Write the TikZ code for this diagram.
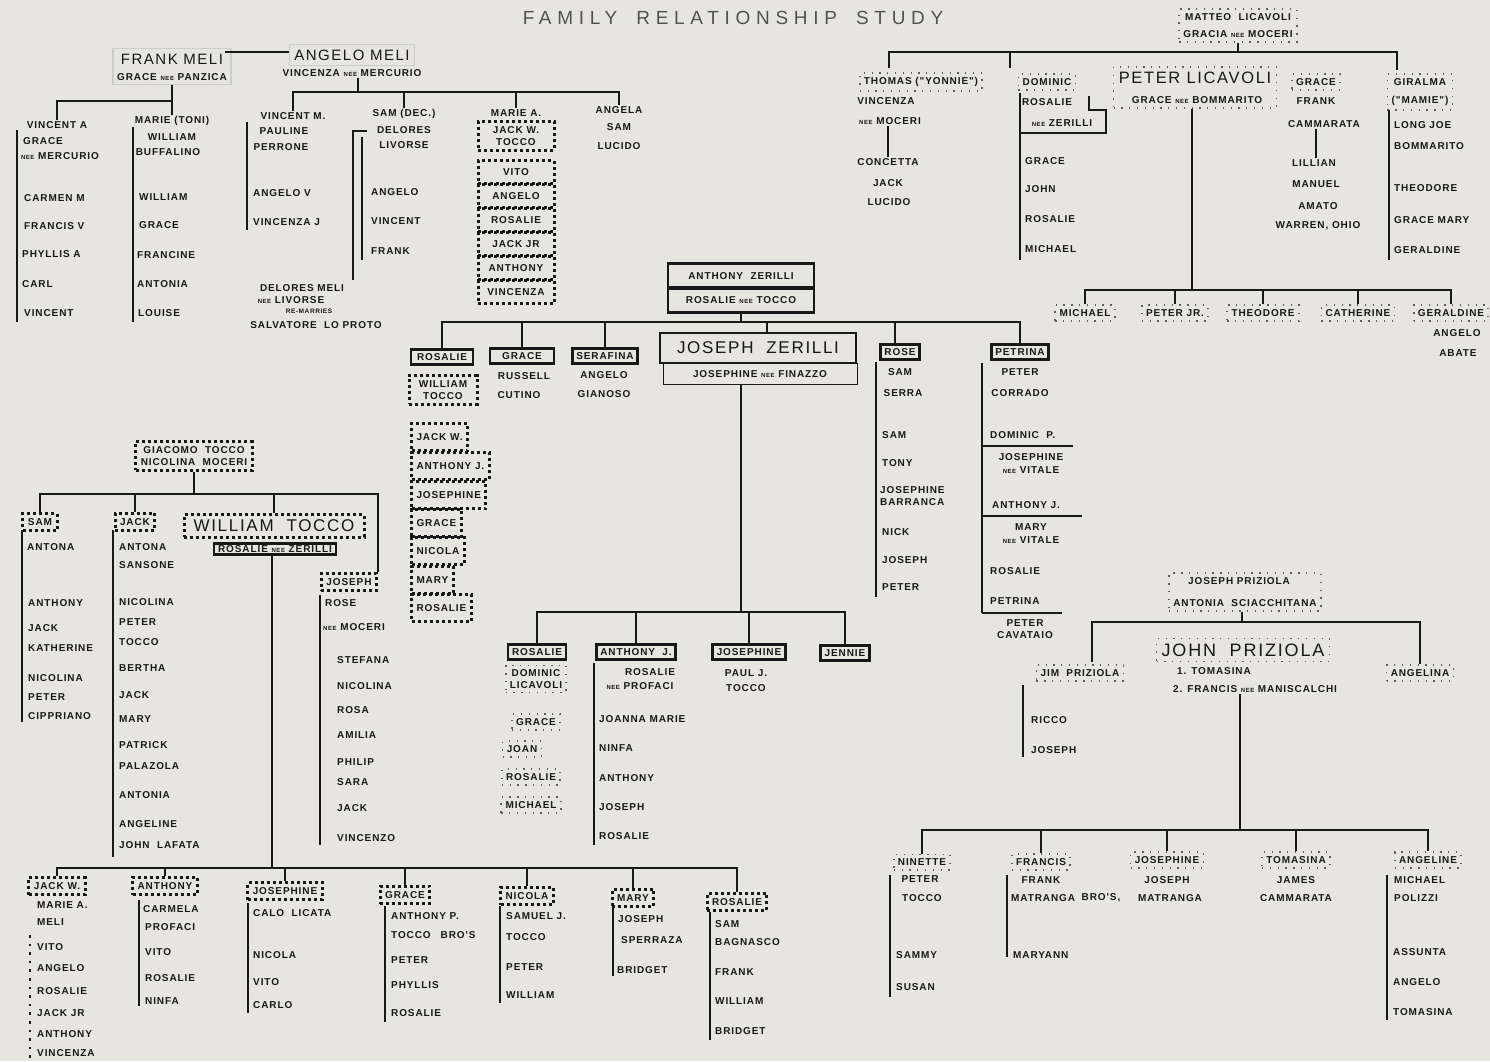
\documentclass[tikz,border=0pt]{standalone}
\usepackage{fontspec}
\setsansfont{Liberation Sans}
\newfontfamily\labfont{Liberation Sans}[LetterSpace=9]
\newfontfamily\bigfont{Liberation Sans}[LetterSpace=10]
\newfontfamily\titlefont{Liberation Sans}[LetterSpace=30]
\usetikzlibrary{fit}
\definecolor{paper}{RGB}{231,229,223}
\definecolor{ink}{RGB}{24,24,24}
\newcommand\nee{{\fontsize{6}{6}\selectfont NEE}}

\begin{document}
\begin{tikzpicture}[x=1pt,y=-1pt,ink]

  \tikzstyle{person}=[font=\labfont\bfseries\fontsize{10}{11.5}\selectfont,inner sep=1pt,text=ink]
  \tikzstyle{kid}=[person,anchor=west]
  \tikzstyle{bigname}=[font=\bigfont\fontsize{18}{20}\selectfont,inner sep=2pt,text=ink]
  \tikzstyle{midname}=[font=\bigfont\fontsize{15}{16}\selectfont,inner sep=2pt,text=ink]
  \tikzstyle{heavy}=[person,draw,line width=2.6pt,inner xsep=4pt,inner ysep=4pt]
  \tikzstyle{thinbox}=[person,draw,line width=1pt,inner xsep=4pt,inner ysep=4pt]
  \tikzstyle{dots}=[person,draw,line width=3pt,dash pattern=on 3pt off 3pt,inner xsep=5pt,inner ysep=5pt]
  \tikzstyle{sparse}=[draw=ink!70,line width=1.7pt,dash pattern=on 1.3pt off 6.5pt,inner sep=3pt]
  \tikzstyle{faint}=[draw=ink!22,line width=1.2pt,inner sep=3pt]
  \tikzstyle{famline}=[line width=1.5pt]
  \tikzstyle{sideline}=[line width=1.8pt]

  \useasboundingbox (0,0) rectangle (1490,1061);
  \fill[paper] (0,0) rectangle (1490,1061);

  \node[font=\titlefont\fontsize{19}{20}\selectfont,text=ink!75] (title) at (733,18) {FAMILY\quad RELATIONSHIP\quad STUDY};

  % Meli
  \node[midname] (fmeli) at (172,59) {FRANK MELI};
  \node[person] (fmeliw) at (172,77) {GRACE \nee{} PANZICA};
  \node[faint,fit=(fmeli)(fmeliw)] (fmbox) {};
  \node[midname] (ameli) at (352,55) {ANGELO MELI};
  \node[person] (ameliw) at (352,73) {VINCENZA \nee{} MERCURIO};
  \node[faint,fit=(ameli)] (ambox) {};
  \draw[famline] ([yshift=7pt]fmeli.east) -- ([yshift=7pt]fmeli.east -| ambox.west);

  \node[person] (vinca)  at (57,125) {VINCENT A};
  \node[kid]    (vincag) at (22,141) {GRACE};
  \node[person] (vincan) at (60,156) {\nee{} MERCURIO};
  \node[kid] (carmen)  at (23,198) {CARMEN M};
  \node[kid] (francis) at (23,226) {FRANCIS V};
  \node[kid] (phyllis) at (21,254) {PHYLLIS A};
  \node[kid] (carl)    at (21,284) {CARL};
  \node[kid] (vincent) at (23,313) {VINCENT};

  \node[person] (marie)  at (172,121) {MARIE (TONI)};
  \node[person] (mariew) at (172,137) {WILLIAM};
  \node[person] (marieb) at (168,152) {BUFFALINO};
  \node[kid] (mwilliam)  at (138,197) {WILLIAM};
  \node[kid] (mgrace)    at (138,225) {GRACE};
  \node[kid] (mfrancine) at (136,255) {FRANCINE};
  \node[kid] (mantonia)  at (136,284) {ANTONIA};
  \node[kid] (mlouise)   at (137,313) {LOUISE};

  \coordinate (fmbar) at (172,101);
  \draw[famline] (fmbox.south) -- (fmbar) -| (vinca.north);
  \draw[famline] (fmbar) -- (marie.north);
  \draw[sideline] (17,130) -- (17,322);
  \draw[sideline] (133,127) -- (133,322);

  \node[person] (vincm)  at (293,116) {VINCENT M.};
  \node[person] (vincmp) at (284,131) {PAULINE};
  \node[person] (vincmr) at (281,147) {PERRONE};
  \node[kid] (vmangelo)   at (252,193) {ANGELO V};
  \node[kid] (vmvincenza) at (252,222) {VINCENZA J};

  \node[person] (sam)  at (404,114) {SAM (DEC.)};
  \node[person] (samd) at (404,130) {DELORES};
  \node[person] (saml) at (404,145) {LIVORSE};
  \node[kid] (sangelo)  at (370,192) {ANGELO};
  \node[kid] (svincent) at (370,221) {VINCENT};
  \node[kid] (sfrank)   at (370,251) {FRANK};

  \node[person] (delores) at (302,288) {DELORES MELI};
  \node[person] (delorl)  at (291,300) {\nee{} LIVORSE};
  \node[person,font=\labfont\bfseries\fontsize{6.5}{7}\selectfont] (delorr) at (309,311) {RE-MARRIES};
  \node[person] (delors)  at (316,325) {SALVATORE\ \ LO PROTO};

  \node[person] (mariea) at (516,113) {MARIE A.};
  \node[dots,align=center,minimum width=76pt] (mjack) at (516,136) {JACK W.\\TOCCO};
  \node[dots,minimum width=76pt,minimum height=23pt] (mvito)     at (516,172) {VITO};
  \node[dots,minimum width=76pt,minimum height=23pt] (mangelo)   at (516,196) {ANGELO};
  \node[dots,minimum width=76pt,minimum height=23pt] (mrosalie)  at (516,220) {ROSALIE};
  \node[dots,minimum width=76pt,minimum height=23pt] (mjackjr)   at (516,244) {JACK JR};
  \node[dots,minimum width=76pt,minimum height=23pt] (manthony)  at (516,268) {ANTHONY};
  \node[dots,minimum width=76pt,minimum height=23pt] (mvincenza) at (516,292) {VINCENZA};

  \node[person] (angela)  at (619,110) {ANGELA};
  \node[person] (angelas) at (619,127) {SAM};
  \node[person] (angelal) at (619,146) {LUCIDO};

  \coordinate (ambar) at (358,92);
  \draw[famline] (ameliw.south -| ambar) -- (ambar);
  \draw[famline] (vincm.north) -- (vincm.north |- ambar) -- (angela.north |- ambar) -- (angela.north);
  \draw[famline] (sam.north |- ambar) -- (sam.north);
  \draw[famline] (mariea.north |- ambar) -- (mariea.north);
  \draw[sideline] (247,122) -- (247,230);
  \draw[sideline] (362,137) -- (362,260);
  \draw[sideline] (367,131) -- (353,131) -- (353,280);

  % Licavoli
  \node[person] (matteo) at (1238,17) {MATTEO\ \ LICAVOLI};
  \node[person] (gracia) at (1238,34) {GRACIA \nee{} MOCERI};
  \node[sparse,fit=(matteo)(gracia)] (matteobox) {};
  \coordinate (lbar) at (1238,52);
  \draw[famline] (matteobox.south) -- (lbar);

  \node[person] (thomas)   at (921,82) {THOMAS ("YONNIE")};
  \node[sparse,fit=(thomas)] (thomasbox) {};
  \node[person] (thomasv)  at (886,101) {VINCENZA};
  \node[person] (thomasm)  at (890,121) {\nee{} MOCERI};
  \node[person] (concetta) at (888,162) {CONCETTA};
  \node[person] (cjack)    at (888,183) {JACK};
  \node[person] (clucido)  at (889,202) {LUCIDO};
  \draw[famline] (thomasm.south -| concetta.north) -- (concetta.north);

  \node[person] (dominic)  at (1047,82) {DOMINIC};
  \node[sparse,fit=(dominic)] (dominicbox) {};
  \node[person] (drosalie) at (1047,102) {ROSALIE};
  \node[person] (dzerilli) at (1062,123) {\nee{} ZERILLI};
  \draw[line width=2.6pt] (1020,93) -- (1020,133) -- (1106,133) -- (1106,110) -- (1089,110) -- (1089,96);
  \node[kid] (dgrace)    at (1024,161) {GRACE};
  \node[kid] (djohn)     at (1024,189) {JOHN};
  \node[kid] (drosalie2) at (1024,219) {ROSALIE};
  \node[kid] (dmichael)  at (1024,249) {MICHAEL};
  \draw[sideline] (1020,133) -- (1020,260);

  \node[bigname,font=\bigfont\fontsize{16.5}{18}\selectfont] (peter)  at (1195,78) {PETER\ LICAVOLI};
  \node[person]  (peterw) at (1197,100) {GRACE \nee{} BOMMARITO};
  \node[sparse,fit=(peter)(peterw)] (peterbox) {};

  \node[person] (pgrace)  at (1316,82) {GRACE};
  \node[sparse,fit=(pgrace)] (pgracebox) {};
  \node[person] (pfrank)  at (1316,101) {FRANK};
  \node[person] (pcamm)   at (1324,124) {CAMMARATA};
  \node[person] (lillian) at (1314,163) {LILLIAN};
  \node[person] (manuel)  at (1316,184) {MANUEL};
  \node[person] (amato)   at (1318,206) {AMATO};
  \node[person] (warren)  at (1318,226) {WARREN, OHIO};
  \draw[famline] (pcamm.south -| pfrank) -- (lillian.north -| pfrank);

  \node[person] (giralma) at (1420,82) {GIRALMA};
  \node[person] (mamie)   at (1420,101) {("MAMIE")};
  \node[sparse,fit=(giralma)(mamie)] (giralmabox) {};
  \node[kid] (longjoe) at (1393,125) {LONG JOE};
  \node[kid] (bommar)  at (1393,146) {BOMMARITO};
  \node[kid] (gtheo)   at (1393,188) {THEODORE};
  \node[kid] (ggrace)  at (1393,220) {GRACE MARY};
  \node[kid] (ggerald) at (1393,250) {GERALDINE};
  \draw[sideline] (1389,110) -- (1389,260);

  \coordinate (tdrop) at (889,68);
  \coordinate (ddrop) at (1010,68);
  \coordinate (gdrop) at (1397,70);
  \draw[famline] (tdrop) -- (tdrop |- lbar) -- (gdrop |- lbar) -- (gdrop);
  \draw[famline] (ddrop |- lbar) -- (ddrop);

  \coordinate (pbar) at (1192,290);
  \draw[famline] (peterbox.south -| pbar) -- (pbar);
  \node[person] (pmichael) at (1085,313) {MICHAEL};
  \node[person] (ppeterjr) at (1175,313) {PETER JR.};
  \node[person] (ptheo)    at (1263,313) {THEODORE};
  \node[person] (pcath)    at (1358,313) {CATHERINE};
  \node[person] (pgerald)  at (1451,313) {GERALDINE};
  \node[person] (pangelo)  at (1457,333) {ANGELO};
  \node[person] (pabate)   at (1458,353) {ABATE};
  \node[sparse,fit=(pmichael)] (pmichaelbox) {};
  \node[sparse,fit=(ppeterjr)] (ppeterjrbox) {};
  \node[sparse,fit=(ptheo)] (ptheobox) {};
  \node[sparse,fit=(pcath)] (pcathbox) {};
  \node[sparse,fit=(pgerald)] (pgeraldbox) {};
  \draw[famline] (pmichaelbox.north) -- (pmichaelbox.north |- pbar) -- (pgeraldbox.north |- pbar) -- (pgeraldbox.north);
  \draw[famline] (ppeterjrbox.north |- pbar) -- (ppeterjrbox.north);
  \draw[famline] (ptheobox.north |- pbar) -- (ptheobox.north);
  \draw[famline] (pcathbox.north |- pbar) -- (pcathbox.north);

  % Zerilli
  \node[heavy,minimum width=146pt,minimum height=25pt] (az) at (741,276) {ANTHONY\ \ ZERILLI};
  \node[heavy,minimum width=146pt,minimum height=25pt] (rz) at (741,300) {ROSALIE \nee{} TOCCO};
  \coordinate (zbar) at (741,322);
  \draw[famline] (rz.south) -- (zbar);

  \node[heavy,minimum width=62pt] (zrosalie) at (442,357) {ROSALIE};
  \node[heavy,minimum width=64pt] (zgrace) at (522,356) {GRACE};
  \node[heavy] (zserafina) at (605,356) {SERAFINA};
  \node[heavy,font=\bigfont\fontsize{17}{18}\selectfont,minimum width=196pt,minimum height=30pt,inner ysep=2pt] (joseph) at (758,348) {JOSEPH\ \ ZERILLI};
  \node[thinbox,minimum width=194pt,minimum height=21pt,inner ysep=2pt] (josephine) at (760,374) {JOSEPHINE \nee{} FINAZZO};
  \node[heavy] (zrose) at (900,352) {ROSE};
  \node[heavy] (zpetrina) at (1020,352) {PETRINA};
  \coordinate (jdrop) at ([xshift=9pt]joseph.north);
  \coordinate (rdrop) at ([xshift=-5pt]zrose.north);
  \draw[famline] (zrosalie.north) -- (zrosalie.north |- zbar) -- (zpetrina.north |- zbar) -- (zpetrina.north);
  \draw[famline] (zgrace.north |- zbar) -- (zgrace.north);
  \draw[famline] (zserafina.north |- zbar) -- (zserafina.north);
  \draw[famline] (jdrop |- zbar) -- (jdrop);
  \draw[famline] (rdrop |- zbar) -- (rdrop);

  \node[dots,align=center,minimum width=68pt] (zwt) at (443,390) {WILLIAM\\TOCCO};
  \node[dots,anchor=west,minimum height=27pt] (zjack)   at (410,437) {JACK W.};
  \node[dots,anchor=west,minimum height=27pt] (zanth)   at (410,466) {ANTHONY J.};
  \node[dots,anchor=west,minimum height=27pt] (zjosep)  at (410,495) {JOSEPHINE};
  \node[dots,anchor=west,minimum height=27pt] (zgrace2) at (410,523) {GRACE};
  \node[dots,anchor=west,minimum height=27pt] (znicola) at (410,551) {NICOLA};
  \node[dots,anchor=west,minimum height=27pt] (zmary)   at (410,580) {MARY};
  \node[dots,anchor=west,minimum height=27pt] (zros2)   at (410,608) {ROSALIE};

  \node[person] (zrussell) at (524,376) {RUSSELL};
  \node[person] (zcutino)  at (519,395) {CUTINO};
  \node[person] (zangelo)  at (604,375) {ANGELO};
  \node[person] (zgianoso) at (604,394) {GIANOSO};

  \node[person] (rsam)   at (900,372) {SAM};
  \node[person] (rserra) at (903,393) {SERRA};
  \node[kid] (rsam2)   at (881,435) {SAM};
  \node[kid] (rtony)   at (881,463) {TONY};
  \node[kid,align=left] (rjos) at (879,496) {JOSEPHINE\\BARRANCA};
  \node[kid] (rnick)   at (881,532) {NICK};
  \node[kid] (rjoseph) at (881,560) {JOSEPH};
  \node[kid] (rpeter)  at (881,587) {PETER};
  \draw[sideline] (876,362) -- (876,597);

  \node[person] (tpeter)   at (1020,372) {PETER};
  \node[person] (tcorrado) at (1020,393) {CORRADO};
  \node[kid] (tdominic) at (989,435) {DOMINIC\ \ P.};
  \draw[sideline] (982,446) -- (1073,446);
  \node[person] (tjos)  at (1031,457) {JOSEPHINE};
  \node[person] (tjosv) at (1031,470) {\nee{} VITALE};
  \node[kid] (tanth) at (991,505) {ANTHONY J.};
  \draw[sideline] (982,516) -- (1082,516);
  \node[person] (tmary)  at (1031,527) {MARY};
  \node[person] (tmaryv) at (1031,540) {\nee{} VITALE};
  \node[kid] (tros) at (989,571) {ROSALIE};
  \node[kid] (tpet) at (989,601) {PETRINA};
  \draw[sideline] (982,613) -- (1062,613);
  \node[person] (tcav)  at (1025,623) {PETER};
  \node[person] (tcav2) at (1025,635) {CAVATAIO};
  \draw[sideline] (982,363) -- (982,613);

  \coordinate (jbar) at (741,612);
  \draw[famline] (josephine.south -| jbar) -- (jbar);
  \node[heavy] (jrosalie)   at (537,652) {ROSALIE};
  \node[heavy] (janthony)   at (636,652) {ANTHONY\ \ J.};
  \node[heavy] (jjosephine) at (749,652) {JOSEPHINE};
  \node[heavy] (jjennie)    at (845,653) {JENNIE};
  \draw[famline] (jrosalie.north) -- (jrosalie.north |- jbar) -- (jjennie.north |- jbar) -- (jjennie.north);
  \draw[famline] (janthony.north |- jbar) -- (janthony.north);
  \draw[famline] (jjosephine.north |- jbar) -- (jjosephine.north);

  \node[person,align=center] (jdominic) at (536,679) {DOMINIC\\LICAVOLI};
  \node[sparse,fit=(jdominic)] (jdombox) {};
  \node[person] (jgrace)   at (536,722) {GRACE};
  \node[person] (jjoan)    at (522,749) {JOAN};
  \node[person] (jros2)    at (531,777) {ROSALIE};
  \node[person] (jmichael) at (531,805) {MICHAEL};
  \node[sparse,fit=(jgrace)] (jgracebox) {};
  \node[sparse,fit=(jjoan)] (jjoanbox) {};
  \node[sparse,fit=(jros2)] (jros2box) {};
  \node[sparse,fit=(jmichael)] (jmichaelbox) {};

  \node[person] (jaros)  at (650,672) {ROSALIE};
  \node[person] (japrof) at (640,686) {\nee{} PROFACI};
  \node[kid] (jajoanna)  at (598,719) {JOANNA MARIE};
  \node[kid] (janinfa)   at (598,748) {NINFA};
  \node[kid] (jaanth)    at (598,778) {ANTHONY};
  \node[kid] (jajoseph)  at (598,807) {JOSEPH};
  \node[kid] (jarosalie) at (598,836) {ROSALIE};
  \draw[sideline] (594,663) -- (594,845);
  \node[person] (jpaul)  at (746,673) {PAUL J.};
  \node[person] (jtocco) at (746,688) {TOCCO};

  % Priziola
  \node[person] (jpriz) at (1239,581) {JOSEPH PRIZIOLA};
  \node[person] (apriz) at (1245,603) {ANTONIA\ \ SCIACCHITANA};
  \node[sparse,fit=(jpriz)(apriz)] (jprizbox) {};
  \coordinate (prbar) at (1242,622);
  \draw[famline] (jprizbox.south -| prbar) -- (prbar);
  \node[bigname] (john) at (1243,650) {JOHN\ \ PRIZIOLA};
  \node[sparse,fit=(john)] (johnbox) {};
  \node[kid] (jtomasina) at (1176,671) {1. TOMASINA};
  \node[kid] (jfrancis)  at (1172,689) {2. FRANCIS \nee{} MANISCALCHI};
  \node[person] (jim) at (1080,673) {JIM\ \ PRIZIOLA};
  \node[sparse,fit=(jim)] (jimbox) {};
  \node[kid] (jricco)   at (1030,720) {RICCO};
  \node[kid] (jjoseph2) at (1030,750) {JOSEPH};
  \draw[sideline] (1023,685) -- (1023,757);
  \node[person] (angelina) at (1420,673) {ANGELINA};
  \node[sparse,fit=(angelina)] (angelinabox) {};
  \coordinate (jimdrop) at (1092,662);
  \draw[famline] (jimdrop) -- (jimdrop |- prbar) -- (angelinabox.north |- prbar) -- (angelinabox.north);

  \coordinate (nbar) at (1240,830);
  \draw[famline] (jfrancis.south -| nbar) -- (nbar);
  \node[person] (ninette) at (922,862) {NINETTE};
  \node[sparse,fit=(ninette)] (ninbox) {};
  \node[person] (npeter) at (920,879) {PETER};
  \node[person] (ntocco) at (922,898) {TOCCO};
  \node[kid] (nsammy) at (895,955) {SAMMY};
  \node[kid] (nsusan) at (895,987) {SUSAN};
  \draw[sideline] (890,875) -- (890,997);
  \node[person] (nfrancis) at (1041,862) {FRANCIS};
  \node[sparse,fit=(nfrancis)] (nfrbox) {};
  \node[person] (nfrank) at (1041,880) {FRANK};
  \node[kid] (nmatr) at (1010,898) {MATRANGA};
  \node[person] (nbros) at (1101,898) {BRO'S,};
  \node[kid] (nmaryann) at (1012,955) {MARYANN};
  \draw[sideline] (1007,875) -- (1007,957);
  \node[person] (njos) at (1167,860) {JOSEPHINE};
  \node[sparse,fit=(njos)] (njosbox) {};
  \node[person] (njoseph) at (1167,880) {JOSEPH};
  \node[person] (nmatr2) at (1170,898) {MATRANGA};
  \node[person] (ntom) at (1296,860) {TOMASINA};
  \node[sparse,fit=(ntom)] (ntombox) {};
  \node[person] (njames) at (1296,880) {JAMES};
  \node[person] (ncamm) at (1296,898) {CAMMARATA};
  \node[person] (nangel) at (1428,860) {ANGELINE};
  \node[sparse,fit=(nangel)] (nangbox) {};
  \node[kid] (nmich) at (1393,880) {MICHAEL};
  \node[kid] (npol)  at (1393,898) {POLIZZI};
  \node[kid] (nass)  at (1392,952) {ASSUNTA};
  \node[kid] (nang2) at (1392,982) {ANGELO};
  \node[kid] (ntom2) at (1392,1012) {TOMASINA};
  \draw[sideline] (1387,875) -- (1387,1020);
  \draw[famline] (ninbox.north) -- (ninbox.north |- nbar) -- (nangbox.north |- nbar) -- (nangbox.north);
  \draw[famline] (nfrbox.north |- nbar) -- (nfrbox.north);
  \draw[famline] (njosbox.north |- nbar) -- (njosbox.north);
  \draw[famline] (ntombox.north |- nbar) -- (ntombox.north);

  % Tocco
  \node[dots,align=center] (giacomo) at (194,456) {GIACOMO\ \ TOCCO\\NICOLINA\ \ MOCERI};
  \coordinate (gbar) at (194,494);
  \draw[famline] (giacomo.south) -- (gbar);
  \node[dots] (tsam)  at (40,522) {SAM};
  \node[dots] (tjack) at (135,522) {JACK};
  \node[dots,font=\bigfont\fontsize{17}{18}\selectfont,minimum width=180pt] (william) at (274,526) {WILLIAM\ \ TOCCO};
  \node[heavy,inner ysep=2pt] (rosaliew) at (275,549) {ROSALIE \nee{} ZERILLI};
  \node[dots] (tjoseph) at (349,582) {JOSEPH};
  \draw[famline] (tsam.north) -- (tsam.north |- gbar) -- (tjoseph.north east |- gbar) -- (tjoseph.north east);
  \draw[famline] (tjack.north |- gbar) -- (tjack.north);
  \draw[famline] (william.north |- gbar) -- (william.north);

  \node[kid] (tsant)     at (26,547) {ANTONA};
  \node[kid] (tsanthony) at (27,603) {ANTHONY};
  \node[kid] (tsjack)    at (27,628) {JACK};
  \node[kid] (tskath)    at (27,648) {KATHERINE};
  \node[kid] (tsnic)     at (27,678) {NICOLINA};
  \node[kid] (tspeter)   at (27,697) {PETER};
  \node[kid] (tscip)     at (27,716) {CIPPRIANO};
  \draw[sideline] (22,530) -- (22,722);

  \node[kid] (tjant)    at (118,547) {ANTONA};
  \node[kid] (tjsans)   at (118,565) {SANSONE};
  \node[kid] (tjnic)    at (118,602) {NICOLINA};
  \node[kid] (tjpeter)  at (118,622) {PETER};
  \node[kid] (tjtocco)  at (118,642) {TOCCO};
  \node[kid] (tjbertha) at (118,668) {BERTHA};
  \node[kid] (tjjack)   at (118,695) {JACK};
  \node[kid] (tjmary)   at (118,719) {MARY};
  \node[kid] (tjpat)    at (118,745) {PATRICK};
  \node[kid] (tjpal)    at (118,766) {PALAZOLA};
  \node[kid] (tjant2)   at (118,795) {ANTONIA};
  \node[kid] (tjang)    at (118,824) {ANGELINE};
  \node[kid] (tjjohn)   at (118,845) {JOHN\ \ LAFATA};
  \draw[sideline] (113,530) -- (113,857);

  \node[kid] (tjorose) at (324,603) {ROSE};
  \node[kid] (tjomoc)  at (322,627) {\nee{} MOCERI};
  \node[kid] (tjostef) at (336,660) {STEFANA};
  \node[kid] (tjonic)  at (336,686) {NICOLINA};
  \node[kid] (tjorosa) at (336,710) {ROSA};
  \node[kid] (tjoam)   at (336,735) {AMILIA};
  \node[kid] (tjophil) at (336,762) {PHILIP};
  \node[kid] (tjosara) at (336,782) {SARA};
  \node[kid] (tjojack) at (336,808) {JACK};
  \node[kid] (tjovin)  at (336,838) {VINCENZO};
  \draw[sideline] (320,595) -- (320,845);

  \coordinate (wbar) at (272,868);
  \draw[famline] (rosaliew.south -| wbar) -- (wbar);
  \node[dots] (wjack) at (57,886) {JACK W.};
  \node[kid] (wmarie)    at (36,905) {MARIE A.};
  \node[kid] (wmeli)     at (36,922) {MELI};
  \node[kid] (wvito)     at (36,947) {VITO};
  \node[kid] (wangelo)   at (36,968) {ANGELO};
  \node[kid] (wrosalie)  at (36,991) {ROSALIE};
  \node[kid] (wjackjr)   at (36,1013) {JACK JR};
  \node[kid] (wanthony)  at (36,1034) {ANTHONY};
  \node[kid] (wvincenza) at (36,1053) {VINCENZA};
  \draw[line width=2.6pt,dash pattern=on 2.6pt off 6pt] (30,935) -- (30,1060);

  \node[dots] (wanth) at (165,886) {ANTHONY};
  \node[kid] (wacarm)    at (142,909) {CARMELA};
  \node[kid] (waprof)    at (144,927) {PROFACI};
  \node[kid] (wavito)    at (144,952) {VITO};
  \node[kid] (warosalie) at (144,978) {ROSALIE};
  \node[kid] (waninfa)   at (144,1001) {NINFA};
  \draw[sideline] (139,900) -- (139,1006);

  \node[dots] (wjos) at (285,891) {JOSEPHINE};
  \node[kid] (wjcalo)   at (252,913) {CALO\ \ LICATA};
  \node[kid] (wjnicola) at (252,955) {NICOLA};
  \node[kid] (wjvito)   at (252,982) {VITO};
  \node[kid] (wjcarlo)  at (252,1005) {CARLO};
  \draw[sideline] (248,903) -- (248,1013);

  \node[dots] (wgrace) at (405,895) {GRACE};
  \node[kid] (wganth)  at (390,916) {ANTHONY P.};
  \node[kid] (wgtocco) at (390,935) {TOCCO\quad BRO'S};
  \node[kid] (wgpeter) at (390,960) {PETER};
  \node[kid] (wgphyl)  at (390,985) {PHYLLIS};
  \node[kid] (wgros)   at (390,1013) {ROSALIE};
  \draw[sideline] (385,906) -- (385,1022);

  \node[dots] (wnicola) at (527,896) {NICOLA};
  \node[kid] (wnsam)   at (505,916) {SAMUEL J.};
  \node[kid] (wntocco) at (505,937) {TOCCO};
  \node[kid] (wnpeter) at (505,967) {PETER};
  \node[kid] (wnwill)  at (505,995) {WILLIAM};
  \draw[sideline] (500,906) -- (500,1003);

  \node[dots] (wmary) at (633,898) {MARY};
  \node[kid] (wmjoseph)  at (617,919) {JOSEPH};
  \node[kid] (wmsperr)   at (620,940) {SPERRAZA};
  \node[kid] (wmbridget) at (616,970) {BRIDGET};
  \draw[sideline] (613,908) -- (613,976);

  \node[dots] (wros) at (737,902) {ROSALIE};
  \node[kid] (wrsam)     at (714,924) {SAM};
  \node[kid] (wrbagn)    at (714,942) {BAGNASCO};
  \node[kid] (wrfrank)   at (714,972) {FRANK};
  \node[kid] (wrwill)    at (714,1001) {WILLIAM};
  \node[kid] (wrbridget) at (714,1031) {BRIDGET};
  \draw[sideline] (710,912) -- (710,1040);

  \draw[famline] (wjack.north) -- (wjack.north |- wbar) -- (wros.north |- wbar) -- (wros.north);
  \draw[famline] (wanth.north |- wbar) -- (wanth.north);
  \draw[famline] (wjos.north |- wbar) -- (wjos.north);
  \draw[famline] (wgrace.north |- wbar) -- (wgrace.north);
  \draw[famline] (wnicola.north |- wbar) -- (wnicola.north);
  \draw[famline] (wmary.north |- wbar) -- (wmary.north);
\end{tikzpicture}
\end{document}
